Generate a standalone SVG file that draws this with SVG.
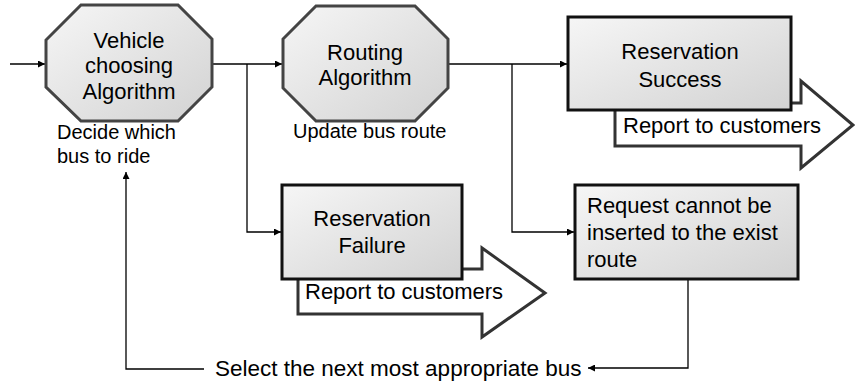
<svg xmlns="http://www.w3.org/2000/svg" width="855" height="387" viewBox="0 0 855 387">
<defs>
<linearGradient id="g" x1="0" y1="0" x2="1" y2="1">
<stop offset="0" stop-color="#f6f6f6"/>
<stop offset="1" stop-color="#d2d2d2"/>
</linearGradient>
<marker id="ah" viewBox="0 0 10 10" refX="10" refY="5" markerWidth="8" markerHeight="7" markerUnits="userSpaceOnUse" orient="auto">
<path d="M0,0 L10,5 L0,10 z" fill="#000"/>
</marker>
<style>
.t{font-family:"Liberation Sans",Arial,sans-serif;font-size:22px;fill:#000}
.s{font-family:"Liberation Sans",Arial,sans-serif;font-size:20px;fill:#000}
.c{text-anchor:middle}
.oct{fill:url(#g);stroke:#444;stroke-width:3}
.box{fill:url(#g);stroke:#111;stroke-width:3}
.big{fill:#fff;stroke:#333;stroke-width:3;stroke-linejoin:miter}
.ln{fill:none;stroke:#000;stroke-width:1.3}
</style>
</defs>
<rect width="855" height="387" fill="#fff"/>
<g id="connectors">
<path class="ln" d="M10,64 H45" marker-end="url(#ah)"/>
<path class="ln" d="M212,64 H282" marker-end="url(#ah)"/>
<path class="ln" d="M247,64 V232 H281" marker-end="url(#ah)"/>
<path class="ln" d="M448,64 H567" marker-end="url(#ah)"/>
<path class="ln" d="M512,64 V232 H574" marker-end="url(#ah)"/>
<path class="ln" d="M688,279 V368 H588" marker-end="url(#ah)"/>
<path class="ln" d="M204,369 H126 V172" marker-end="url(#ah)"/>
</g>
<g id="vehicle">
<polygon class="oct" points="81,5 178,5 212,39 212,87 178,121 81,121 46,87 46,40"/>
<text class="t c" x="129" y="48">Vehicle</text>
<text class="t c" x="129" y="73">choosing</text>
<text class="t c" x="129" y="99">Algorithm</text>
<text class="s" x="57" y="139">Decide which</text>
<text class="s" x="57" y="163">bus to ride</text>
</g>
<g id="routing">
<polygon class="oct" points="316,6 415,6 448,39 448,88 415,121 316,121 283,88 283,39"/>
<text class="t c" x="365" y="60">Routing</text>
<text class="t c" x="365" y="85">Algorithm</text>
<text class="s" x="293" y="138">Update bus route</text>
</g>
<g id="success">
<polygon class="big" points="615,103 801,103 801,81 853,125 801,168 801,146 615,146"/>
<rect class="box" x="568" y="17" width="223" height="93"/>
<text class="t c" x="680" y="59">Reservation</text>
<text class="t c" x="680" y="87">Success</text>
<text class="t" x="623" y="133">Report to customers</text>
</g>
<g id="failure">
<polygon class="big" points="298,269 482,269 482,248 545,293 482,337 482,314 298,314"/>
<rect class="box" x="282" y="185" width="180" height="94"/>
<text class="t c" x="372" y="226">Reservation</text>
<text class="t c" x="372" y="253">Failure</text>
<text class="t" x="305" y="299">Report to customers</text>
</g>
<g id="request">
<rect class="box" x="575" y="185" width="223" height="94"/>
<text class="t" x="587" y="213">Request cannot be</text>
<text class="t" x="587" y="240">inserted to the exist</text>
<text class="t" x="587" y="267">route</text>
</g>
<g id="select">
<text class="t" x="215" y="376" style="font-size:22.5px">Select the next most appropriate bus</text>
</g>
</svg>
